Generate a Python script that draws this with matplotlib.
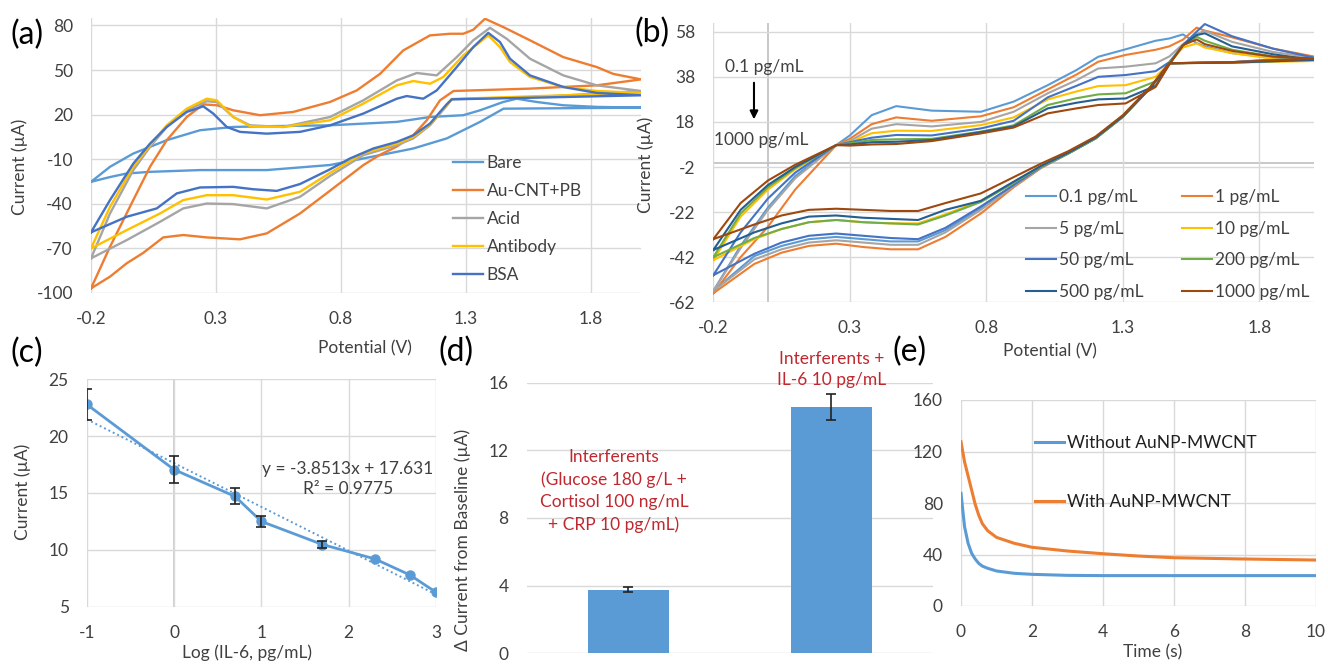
import matplotlib
matplotlib.use("Agg")
import matplotlib.pyplot as plt

plt.rcParams['font.family'] = ['Lato', 'DejaVu Sans']
plt.rcParams['axes.unicode_minus'] = False

# ---------------- data: panel (a) ----------------
a_labels = ["Bare", "Au-CNT+PB", "Acid", "Antibody", "BSA"]
a_colors = ["#5B9BD5", "#ED7D31", "#A5A5A5", "#FFC000", "#4472C4"]

bare_up_v = [-0.2, -0.124, -0.031, 0.036, 0.103, 0.236, 0.369, 0.503, 0.756, 1.023, 1.156, 1.289, 1.356, 1.449, 1.503, 1.583, 1.689, 1.823, 2.0]
bare_up_i = [-25.2, -15.1, -6.2, -1.7, 2.8, 9.5, 11.7, 12.2, 12.8, 15.1, 18.4, 19.6, 22.9, 28.5, 30.7, 28.5, 26.3, 25.2, 24.7]
bare_lo_v = [2.0, 1.45, 1.356, 1.223, 1.089, 0.889, 0.756, 0.503, 0.236, 0.036, -0.057, -0.124, -0.2]
bare_lo_i = [24.7, 24.0, 15.1, 4.0, -2.8, -9.5, -13.9, -17.3, -17.3, -18.5, -19.6, -22.0, -25.2]

au_up_v = [-0.2, -0.124, -0.031, 0.036, 0.103, 0.183, 0.249, 0.303, 0.369, 0.476, 0.609, 0.756, 0.863, 0.956, 1.049, 1.156, 1.236, 1.289, 1.329, 1.376, 1.449, 1.556, 1.689, 1.823, 1.889, 2.0]
au_up_i = [-96.9, -68.9, -37.5, -15.1, 2.8, 18.4, 26.9, 26.3, 22.9, 19.6, 21.8, 28.5, 36.3, 47.4, 63.2, 73.3, 74.4, 74.4, 77.1, 84.5, 78.9, 70.0, 58.7, 52.0, 47.4, 43.7]
au_lo_v = [2.0, 1.823, 1.556, 1.25, 1.196, 1.143, 1.089, 1.023, 0.956, 0.889, 0.756, 0.636, 0.503, 0.396, 0.263, 0.169, 0.089, 0.009, -0.057, -0.124, -0.2]
au_lo_i = [43.7, 39.7, 37.5, 35.9, 29.6, 16.2, 6.1, -1.5, -7.0, -14.0, -31.2, -46.5, -59.9, -63.9, -62.6, -61.0, -62.6, -73.0, -80.0, -89.0, -96.9]

acid_up_v = [-0.2, -0.124, -0.031, 0.036, 0.103, 0.183, 0.263, 0.303, 0.369, 0.436, 0.569, 0.756, 0.889, 1.023, 1.103, 1.183, 1.263, 1.329, 1.396, 1.463, 1.556, 1.689, 1.823, 2.0]
acid_up_i = [-76.7, -46.5, -17.4, -1.7, 11.7, 22.9, 29.0, 28.5, 18.4, 12.8, 11.7, 18.4, 29.6, 43.0, 48.0, 46.4, 58.7, 70.0, 78.4, 71.0, 57.6, 46.4, 39.7, 35.9]
acid_lo_v = [2.0, 1.6, 1.243, 1.223, 1.156, 1.089, 1.023, 0.889, 0.756, 0.636, 0.503, 0.369, 0.263, 0.169, 0.076, -0.057, -0.2]
acid_lo_i = [35.9, 32.0, 30.3, 26.0, 12.8, 4.0, -0.6, -7.3, -21.3, -35.3, -43.1, -40.2, -39.8, -43.1, -52.1, -64.4, -76.7]

ab_up_v = [-0.2, -0.124, -0.031, 0.036, 0.103, 0.183, 0.263, 0.303, 0.369, 0.436, 0.569, 0.756, 0.889, 1.023, 1.089, 1.156, 1.209, 1.289, 1.389, 1.436, 1.476, 1.556, 1.689, 1.823, 2.0]
ab_up_i = [-70.0, -42.0, -15.1, -0.6, 12.8, 24.0, 30.7, 29.6, 18.4, 12.2, 11.7, 16.2, 27.4, 39.7, 42.6, 40.8, 45.3, 59.8, 73.3, 65.4, 55.4, 45.3, 38.6, 35.9, 34.6]
ab_lo_v = [2.0, 1.6, 1.243, 1.223, 1.156, 1.089, 1.023, 0.889, 0.756, 0.636, 0.503, 0.369, 0.263, 0.169, 0.076, -0.057, -0.2]
ab_lo_i = [34.6, 32.5, 30.5, 26.5, 13.5, 5.0, 0.5, -6.0, -19.2, -31.9, -37.1, -34.2, -34.2, -37.5, -46.5, -57.7, -70.0]

bsa_up_v = [-0.2, -0.124, -0.031, 0.036, 0.103, 0.183, 0.249, 0.289, 0.343, 0.396, 0.503, 0.636, 0.756, 0.889, 1.023, 1.063, 1.129, 1.183, 1.263, 1.329, 1.389, 1.436, 1.476, 1.556, 1.689, 1.823, 2.0]
bsa_up_i = [-59.2, -37.5, -13.0, 0.5, 11.7, 21.8, 25.6, 20.7, 11.7, 8.4, 7.2, 8.4, 12.8, 20.7, 30.7, 32.5, 30.7, 36.3, 52.0, 65.4, 75.0, 68.8, 57.6, 46.4, 38.6, 34.6, 33.0]
bsa_lo_v = [2.0, 1.6, 1.243, 1.223, 1.156, 1.089, 1.023, 0.929, 0.836, 0.756, 0.636, 0.543, 0.449, 0.369, 0.236, 0.143, 0.063, -0.057, -0.2]
bsa_lo_i = [33.0, 31.5, 30.3, 27.0, 14.0, 6.1, 1.6, -2.8, -9.5, -16.8, -26.7, -31.3, -30.2, -28.6, -29.0, -33.0, -43.1, -48.7, -59.2]

a_ticks_x = [-0.2, 0.3, 0.8, 1.3, 1.8]
a_ticks_y = [-100, -70, -40, -10, 20, 50, 80]

# ---------------- data: panel (b) ----------------
b_labels = ["0.1 pg/mL", "1 pg/mL", "5 pg/mL", "10 pg/mL", "50 pg/mL", "200 pg/mL", "500 pg/mL", "1000 pg/mL"]
b_colors = ["#5B9BD5", "#ED7D31", "#A5A5A5", "#FFC000", "#4472C4", "#70AD47", "#255E91", "#9E480E"]
b_up_v = [-0.2, -0.1, 0.0, 0.1, 0.25, 0.3, 0.38, 0.47, 0.6, 0.78, 0.9, 1.025, 1.13, 1.21, 1.31, 1.42, 1.47, 1.52, 1.57, 1.6, 1.7, 1.85, 2.0]
b_lo_v = [2.0, 1.7, 1.47, 1.4, 1.3, 1.2, 1.1, 1.0, 0.9, 0.78, 0.65, 0.55, 0.45, 0.35, 0.25, 0.15, 0.05, -0.05, -0.2]
b_up_01 = [-57, -37, -20, -6, 7.7, 12, 21, 25, 23, 22.5, 27, 34.3, 41, 46.9, 50.2, 54, 55, 56.8, 53, 51.5, 48.5, 46.5, 45.5]
b_up_1 = [-58, -42, -28.5, -12, 7.7, 10.5, 17, 20, 18.5, 20.5, 24.5, 32.4, 39, 44.7, 47.7, 50, 51.5, 54.5, 59.8, 58.5, 55.5, 50.5, 47]
b_up_5 = [-57, -38, -21, -7, 7.7, 9.5, 15, 17, 16, 18, 22.5, 30.7, 36.5, 41.7, 42.5, 44, 47, 52.5, 57, 58.4, 53.5, 49, 46.5]
b_up_10 = [-43.3, -24, -12, -3, 7.7, 9, 13, 14.1, 14, 16.6, 20, 28, 31.5, 33.9, 34.3, 38, 44, 51, 52.8, 51, 48.5, 46, 45]
b_up_50 = [-50, -31, -16, -4.5, 7.7, 9, 11, 12.2, 12, 15.1, 18.5, 28.9, 34, 38, 38.8, 40.5, 44.5, 52, 58, 61.4, 56, 50.5, 46.5]
b_up_200 = [-42, -22.6, -11, -2.5, 7.7, 8.5, 10, 10.3, 10.5, 13.7, 16.5, 25.5, 28.5, 30.2, 30.7, 36, 44, 52, 55.8, 54, 50, 47, 45.5]
b_up_500 = [-38.8, -21, -10, -2, 7.7, 8, 9, 9.2, 10, 13.5, 16, 24, 26.5, 28, 28.4, 34, 43.5, 52, 56.5, 57.3, 51.5, 48, 45.5]
b_up_1000 = [-34, -18, -8, -1, 7.7, 7.5, 8, 8.2, 9.5, 12.9, 15.5, 21.8, 24, 25.5, 26.2, 33.5, 43.5, 52, 54.6, 52.5, 49.5, 47, 46]
b_lo_01 = [45.5, 44.5, 44, 33, 20.3, 10.7, 4, -2.2, -10, -20.3, -30, -35, -35, -34, -33, -34, -37, -41.5, -57]
b_lo_1 = [47, 44.5, 44, 33, 20.3, 10.7, 4, -2.5, -11, -22.6, -33, -38.5, -38.5, -37.5, -36, -37, -40, -45, -58]
b_lo_5 = [46.5, 44.5, 44, 33, 20.3, 10.7, 4, -2.3, -10.5, -21, -31, -36.5, -36.5, -35.5, -34.5, -35.5, -38.5, -43, -57]
b_lo_10 = [45, 44.3, 44, 33, 20.3, 10.7, 4, -1.8, -9, -17, -23, -27, -27, -26.5, -25.5, -26.5, -29.5, -34, -43.3]
b_lo_50 = [46.5, 44.5, 44, 33, 20.3, 10.7, 4, -2, -10, -19.5, -29, -34, -33.5, -32.5, -31.5, -32.5, -35.5, -40.5, -50]
b_lo_200 = [45.5, 44.3, 44, 33, 20.3, 10.7, 4, -1.8, -9, -17.5, -23.5, -27.5, -27, -26.5, -25.5, -26.5, -29.5, -33.5, -42]
b_lo_500 = [45.5, 44.3, 44, 33, 20.5, 11, 4.3, -1.5, -8.5, -17, -21, -25.5, -25, -24.5, -23.5, -24, -27, -31, -38.8]
b_lo_1000 = [46, 44.5, 44, 33.5, 21, 11.5, 5, -0.5, -6.5, -13.7, -18, -21.5, -21.5, -21, -20.5, -21, -23.5, -27.5, -34]
b_ticks_x = [-0.2, 0.3, 0.8, 1.3, 1.8]
b_ticks_y = [-62, -42, -22, -2, 18, 38, 58]

# ---------------- data: panel (c) ----------------
c_logconc = [-1, 0, 0.699, 1, 1.699, 2.301, 2.699, 3]
c_current = [22.8, 17.06, 14.7, 12.5, 10.47, 9.2, 7.8, 6.27]
c_err = [1.35, 1.22, 0.7, 0.5, 0.3, 0.0, 0.0, 0.0]
trend_slope = -3.8513
trend_intercept = 17.631
trend_r2 = 0.9775

# ---------------- data: panel (d) ----------------
d_categories = ["Interferents", "Interferents + IL-6"]
d_values = [3.76, 14.58]
d_errors = [0.15, 0.76]
d_text1 = "Interferents\n(Glucose 180 g/L +\nCortisol 100 ng/mL\n+ CRP 10 pg/mL)"
d_text2 = "Interferents +\nIL-6 10 pg/mL"

# ---------------- data: panel (e) ----------------
e_time = [0, 0.1, 0.2, 0.3, 0.4, 0.5, 0.6, 0.75, 1, 1.5, 2, 3, 4, 5, 6, 8, 10]
e_without = [87.5, 61.6, 48.7, 40.9, 36.5, 33.1, 31.0, 29.3, 27.2, 25.4, 24.6, 23.8, 23.6, 23.6, 23.6, 23.6, 23.6]
e_with = [127.6, 112.0, 101.0, 90.0, 79.0, 70.5, 64.0, 58.5, 53.3, 48.7, 45.6, 42.7, 40.6, 38.8, 37.5, 36.5, 35.7]
e_labels = ["Without AuNP-MWCNT", "With AuNP-MWCNT"]

# ---------------- figure ----------------
W, H = 1328, 664
fig = plt.figure(figsize=(W / 100, H / 100), dpi=100)

FS = 12.5
TXT = "#404040"
GRID = "#D9D9D9"


def px_axes(l, r, t, b):
    return fig.add_axes([l / W, 1 - b / H, (r - l) / W, (b - t) / H])


def style(ax, xgrid=True, pad=13):
    for s in ax.spines.values():
        s.set_visible(False)
    ax.set_axisbelow(True)
    ax.yaxis.grid(True, color=GRID, lw=1.0)
    if xgrid:
        ax.xaxis.grid(True, color=GRID, lw=1.0)
    ax.tick_params(length=0, labelsize=FS, labelcolor=TXT, pad=pad)


# (a)
ax = px_axes(91, 641, 18, 293)
style(ax)
a_up = [(bare_up_v, bare_up_i), (au_up_v, au_up_i), (acid_up_v, acid_up_i), (ab_up_v, ab_up_i), (bsa_up_v, bsa_up_i)]
a_lo = [(bare_lo_v, bare_lo_i), (au_lo_v, au_lo_i), (acid_lo_v, acid_lo_i), (ab_lo_v, ab_lo_i), (bsa_lo_v, bsa_lo_i)]
for (uv, ui), (lv, li), c, lab in zip(a_up, a_lo, a_colors, a_labels):
    ax.plot(list(uv) + list(lv), list(ui) + list(li), color=c, lw=1.7, label=lab)
ax.set_xlim(-0.2, 2.0)
ax.set_ylim(-100, 85)
ax.set_xticks(a_ticks_x)
ax.set_xticklabels([f"{v:.1f}" for v in a_ticks_x])
ax.set_yticks(a_ticks_y)
ax.set_yticklabels([str(v) for v in a_ticks_y])
ax.set_ylabel("Current (µA)", fontsize=FS, color=TXT)
ax.yaxis.set_label_coords(-0.1145, 0.458)
ax.set_xlabel("Potential (V)", fontsize=FS, color=TXT)
ax.xaxis.set_label_coords(0.498, -0.171)
ax.legend(loc="upper left", bbox_to_anchor=(453 / W, 1 - 155 / H), bbox_transform=fig.transFigure,
          frameon=False, fontsize=FS, handlelength=1.75, handletextpad=0.2, labelspacing=0.69,
          borderpad=0, borderaxespad=0, labelcolor=TXT)

# (b)
ax = px_axes(713.3, 1314, 22.7, 302.3)
style(ax)
ax.axhline(0, color="#BFBFBF", lw=1.2, zorder=0.5)
ax.axvline(0, color="#BFBFBF", lw=1.2, zorder=0.5)
b_up = [b_up_01, b_up_1, b_up_5, b_up_10, b_up_50, b_up_200, b_up_500, b_up_1000]
b_lo = [b_lo_01, b_lo_1, b_lo_5, b_lo_10, b_lo_50, b_lo_200, b_lo_500, b_lo_1000]
handles = []
for ui, li, c, lab in zip(b_up, b_lo, b_colors, b_labels):
    h, = ax.plot(list(b_up_v) + list(b_lo_v), list(ui) + list(li), color=c, lw=1.5, label=lab)
    handles.append(h)
ax.set_xlim(-0.2, 2.0)
ax.set_ylim(-62, 62)
ax.set_xticks(b_ticks_x)
ax.set_xticklabels([f"{v:.1f}" for v in b_ticks_x])
ax.set_yticks(b_ticks_y)
ax.set_yticklabels([str(v) for v in b_ticks_y])
ax.set_ylabel("Current (µA)", fontsize=FS, color=TXT)
ax.yaxis.set_label_coords(-0.0987, 0.49)
ax.set_xlabel("Potential (V)", fontsize=FS, color=TXT)
ax.xaxis.set_label_coords(0.56, -0.146)
order = [0, 2, 4, 6, 1, 3, 5, 7]
ax.legend([handles[i] for i in order], [b_labels[i] for i in order], ncol=2,
          loc="upper left", bbox_to_anchor=(1026 / W, 1 - 189 / H), bbox_transform=fig.transFigure,
          frameon=False, fontsize=FS, handlelength=1.75, handletextpad=0.15, labelspacing=0.9,
          columnspacing=2.2, borderpad=0, borderaxespad=0, labelcolor=TXT)
ax.text(-0.157, 42.3, "0.1 pg/mL", fontsize=FS, color=TXT, ha="left", va="center")
ax.text(-0.197, 10.0, "1000 pg/mL", fontsize=FS, color=TXT, ha="left", va="center")
ax.annotate("", xy=(-0.051, 17.9), xytext=(-0.051, 36.6),
            arrowprops=dict(arrowstyle="-|>", color="black", lw=1.5, mutation_scale=12))

# (c)
ax = px_axes(86.7, 436, 379.3, 606.7)
style(ax)
ax.axvline(0, color="#C8C8C8", lw=1.2, zorder=0.5)
tx = [c_logconc[0], c_logconc[-1]]
ax.plot(tx, [trend_slope * x + trend_intercept for x in tx], color="#5B9BD5", lw=1.4, ls=(0, (1, 1.5)))
ax.plot(c_logconc, c_current, color="#5B9BD5", lw=2, marker="o", ms=6.5)
ex = [x for x, e in zip(c_logconc, c_err) if e > 0]
ey = [y for y, e in zip(c_current, c_err) if e > 0]
ee = [e for e in c_err if e > 0]
ax.errorbar(ex, ey, yerr=ee, fmt="none", ecolor="#222222", elinewidth=1.2, capsize=3.5, capthick=1.2)
ax.set_xlim(-1, 3)
ax.set_ylim(5, 25)
ax.set_xticks([-1, 0, 1, 2, 3])
ax.set_yticks([5, 10, 15, 20, 25])
ax.set_ylabel("Current (µA)", fontsize=FS, color=TXT)
ax.yaxis.set_label_coords(-0.159, 0.504)
ax.set_xlabel("Log (IL-6, pg/mL)", fontsize=FS, color=TXT)
ax.xaxis.set_label_coords(0.459, -0.164)
ax.text(1.99, 16.25, f"y = {trend_slope}x + {trend_intercept}\nR² = {trend_r2}", fontsize=FS,
        color=TXT, ha="center", va="center", multialignment="center", linespacing=1.3)

# (d)
ax = px_axes(526.7, 933, 382.7, 653.3)
style(ax, xgrid=False)
xpos = list(range(len(d_values)))
ax.bar(xpos, d_values, width=0.4, color="#5B9BD5", zorder=2)
ax.errorbar(xpos, d_values, yerr=d_errors, fmt="none", ecolor="#222222", elinewidth=1.2,
            capsize=3.5, capthick=1.2, zorder=3)
ax.set_xlim(-0.5, 1.5)
ax.set_ylim(0, 16)
ax.set_xticks([])
ax.set_yticks([0, 4, 8, 12, 16])
ax.set_ylabel("Δ Current from Baseline (µA)", fontsize=FS, color=TXT)
ax.yaxis.set_label_coords(-0.137, 0.419)
RED = "#C0282F"
ax.text(-0.07, 9.6, d_text1, fontsize=FS, color=RED, ha="center", va="center", linespacing=1.45)
ax.text(1.0, 16.78, d_text2, fontsize=FS, color=RED, ha="center", va="center", linespacing=1.45,
        clip_on=False)

# (e)
ax = px_axes(961, 1316, 400, 606)
style(ax)
ax.plot(e_time, e_without, color="#5B9BD5", lw=2.2, label=e_labels[0])
ax.plot(e_time, e_with, color="#ED7D31", lw=2.2, label=e_labels[1])
ax.set_xlim(0, 10)
ax.set_ylim(0, 160)
ax.set_xticks([0, 2, 4, 6, 8, 10])
ax.set_yticks([0, 40, 80, 120, 160])
ax.set_xlabel("Time (s)", fontsize=FS, color=TXT)
ax.xaxis.set_label_coords(0.541, -0.184)
ax.legend(loc="upper left", bbox_to_anchor=(1035 / W, 1 - 435 / H), bbox_transform=fig.transFigure,
          frameon=False, fontsize=FS, handlelength=1.65, handletextpad=0.2, labelspacing=2.5,
          borderpad=0, borderaxespad=0, labelcolor="#202020")

# panel letters
for lab, x, y in [("(a)", 11, 35), ("(b)", 635, 33), ("(c)", 11, 353), ("(d)", 439, 352), ("(e)", 892, 352)]:
    fig.text(x / W, 1 - y / H, lab, fontsize=23, color="black", ha="left", va="center")

fig.savefig("out.png", dpi=100)
